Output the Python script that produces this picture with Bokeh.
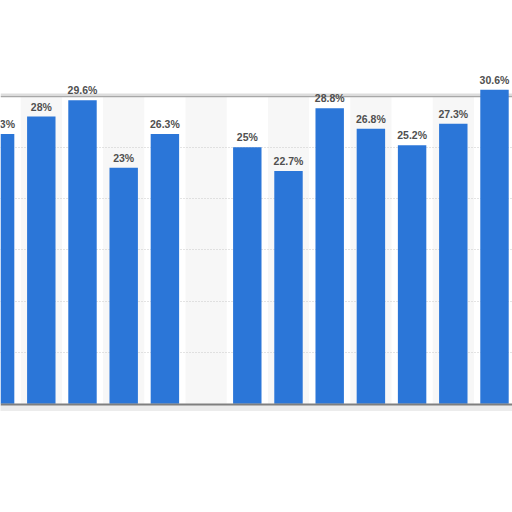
from bokeh.plotting import figure
from bokeh.models import Range1d
from bokeh.embed import file_html
from bokeh.resources import INLINE
from bokeh.core.properties import value

# data (category 5 has no value)
positions = [0, 1, 2, 3, 4, 5, 6, 7, 8, 9, 10, 11, 12]
values = [26.3, 28.0, 29.6, 23.0, 26.3, None, 25.0, 22.7, 28.8, 26.8, 25.2, 27.3, 30.6]
labels = ["26.3%", "28%", "29.6%", "23%", "26.3%", "", "25%", "22.7%", "28.8%", "26.8%", "25.2%", "27.3%", "30.6%"]
grid_values = [5, 10, 15, 20, 25]
frame_top = 30

bx = [x for x, v in zip(positions, values) if v is not None]
bt = [v for v in values if v is not None]
bl = [l for l, v in zip(labels, values) if v is not None]
band_x = [x for x in positions if x % 2 == 1]

p = figure(width=512, height=512, output_backend="svg", toolbar_location=None,
           x_axis_location=None, y_axis_location=None, min_border=0,
           x_range=Range1d(0.0097, 12.437), y_range=Range1d(-10.59, 39.31))
p.outline_line_color = None
p.grid.visible = False
p.background_fill_color = "white"
p.border_fill_color = "white"

# alternating column bands
p.vbar(x=band_x, width=1.0, bottom=0, top=frame_top, fill_color="#f7f7f7", line_color=None)
# dotted gridlines
p.hspan(y=grid_values, line_color="#c8c8c8", line_width=1, line_dash="1 2")
# top frame line with faint shadow
p.hspan(y=[frame_top + 0.12], line_color="#dddddd", line_width=2)
p.hspan(y=[frame_top], line_color="#a8a8a8", line_width=1.5)

# bars
p.vbar(x=bx, width=0.69, bottom=0, top=bt, fill_color="#2b76d8", line_color=None)

# baseline and shadow
p.quad(left=[-1], right=[14], top=[-0.1], bottom=[-0.7], fill_color="#e4e4e4", fill_alpha=0.7, line_color=None)
p.hspan(y=[-0.05], line_color="#7f7f7f", line_width=2)

# value labels
p.text(x=bx, y=bt, text=bl, text_align="center", text_baseline="alphabetic", y_offset=-10,
       text_font=value("Liberation Sans"), text_font_style="bold", text_font_size="10.5px",
       text_color="#505050")

open("out.html", "w").write(file_html(p, INLINE))
